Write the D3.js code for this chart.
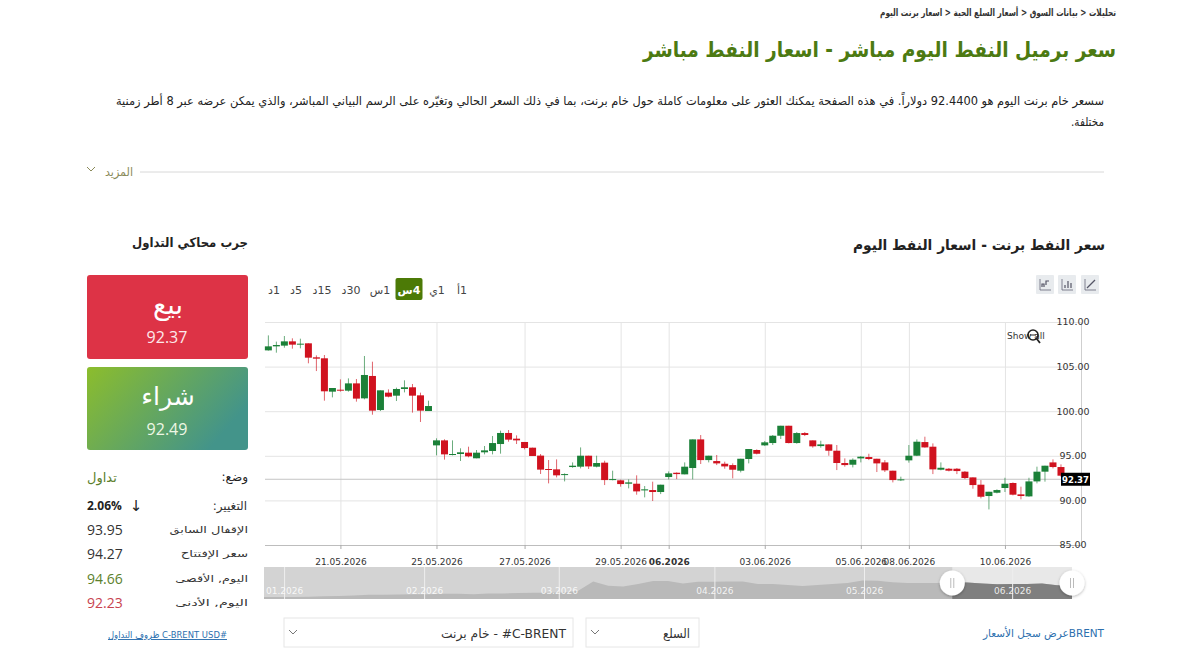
<!DOCTYPE html>
<html lang="ar">
<head>
<meta charset="utf-8">
<script src="https://cdn.jsdelivr.net/npm/d3@7/dist/d3.min.js"></script>
<style>
html, body { margin: 0; padding: 0; background: #fff; overflow: hidden; }
svg { display: block; font-family: "DejaVu Sans", sans-serif; }
</style>
</head>
<body>
<svg id="chart" width="1200" height="661"></svg>
<script>
// 4 hour candles
const candleOpen = [106.82,107.27,107.35,107.83,107.46,107.61,106.04,105.93,102.19,102.41,102.30,103.12,101.44,103.95,100.13,102.08,101.74,102.49,102.68,101.78,100.02,96.17,96.73,95.09,95.20,95.35,94.72,95.39,95.54,96.32,97.56,96.92,96.55,95.91,95.02,93.52,93.48,92.84,93.74,93.78,95.01,93.78,94.23,92.28,92.25,91.87,91.87,91.12,91.16,90.94,92.62,93.10,92.92,93.63,96.84,94.52,94.41,94.11,93.96,93.33,94.64,95.65,96.17,96.43,97.25,98.37,96.43,97.55,96.73,96.09,96.28,95.57,94.19,94.00,94.71,94.86,94.67,94.26,93.33,92.28,94.49,95.01,96.54,96.02,93.44,93.55,93.55,93.22,92.58,91.76,90.49,90.86,91.39,91.95,90.68,90.45,92.13,93.22,94.26,93.74];
const candleHigh = [108.50,107.80,108.43,108.17,108.13,107.61,106.26,106.30,102.60,103.57,103.68,103.61,106.19,105.55,102.34,102.45,102.64,103.46,103.05,102.08,101.18,96.96,96.85,96.73,95.84,96.02,95.65,96.10,97.22,97.82,97.89,97.29,96.55,95.91,95.20,94.53,94.60,93.03,94.26,95.94,95.01,95.01,94.45,93.33,92.32,92.36,92.81,91.61,92.10,91.76,93.25,93.14,94.26,96.84,97.33,95.01,95.09,94.34,94.15,94.67,95.76,95.72,96.66,97.33,98.37,98.37,97.66,97.66,96.73,96.69,96.28,96.21,94.71,94.71,94.97,95.23,94.67,94.52,93.33,92.66,96.21,96.84,97.14,96.39,94.26,93.63,93.63,93.29,92.58,92.28,90.97,91.24,92.54,92.02,91.54,92.54,93.78,93.89,94.60,94.04];
const candleLow = [106.79,106.56,107.12,107.01,107.05,105.37,104.50,101.18,101.55,102.19,102.19,101.07,101.33,99.61,100.02,101.55,101.14,102.11,99.84,98.79,100.02,95.05,94.57,95.05,94.42,94.83,94.72,95.16,95.16,95.24,96.58,96.32,95.72,94.98,92.96,91.91,92.58,92.13,93.66,93.59,93.52,93.70,91.72,92.25,91.54,91.35,90.64,90.34,89.93,90.71,92.36,92.39,92.92,92.36,94.08,94.26,93.96,93.55,92.47,93.14,94.15,95.16,96.09,96.21,96.88,96.39,96.36,97.21,95.91,95.91,95.01,93.40,93.78,93.70,94.26,94.52,93.18,93.18,92.02,92.17,94.23,94.97,95.91,92.95,93.37,93.25,92.95,92.39,91.31,90.23,88.99,90.79,90.94,90.56,90.12,90.41,91.91,92.10,93.59,92.66];
const candleClose = [107.27,107.42,107.83,107.46,107.57,106.00,105.89,102.23,102.60,102.30,103.12,101.41,104.06,100.06,102.34,101.63,102.49,102.68,101.74,100.06,100.58,96.73,95.16,95.20,95.39,94.94,95.35,95.61,96.43,97.56,96.81,96.73,95.87,94.98,93.45,93.41,92.81,92.95,93.89,95.01,93.81,94.19,92.28,92.39,91.83,92.02,91.01,91.24,90.94,91.76,93.03,92.95,93.78,96.84,94.52,95.01,94.15,93.81,93.44,94.67,95.76,95.23,96.51,97.25,98.37,96.43,97.55,97.33,96.06,96.28,95.57,94.19,93.96,94.56,94.90,94.64,94.15,93.37,92.28,92.36,95.01,96.58,95.94,93.48,93.66,93.33,93.29,92.51,91.72,90.41,90.97,91.16,91.87,90.64,90.49,92.13,93.22,93.89,93.74,92.77];
const lastPrice = 92.37;

const priceTicks = [85, 90, 95, 100, 105, 110];
const dateTickCandles = [9, 21, 32, 44, 50, 62, 74, 80, 92];
const dateTickLabels = ["21.05.2026","25.05.2026","27.05.2026","29.05.2026","06.2026","03.06.2026","05.06.2026","08.06.2026","10.06.2026"];

// navigator: closes over the whole range, one sample per step
const navPrices = [60,60,60,61,62,63,64,66,66,67,68,68,69,69,68,70,70,71,72,72,73,78,104,92,90,97,105,105,98,103,103,104,104,97,97,94,91,94,97,100,107,106,102,100,100,100,101,101,98,96,97,97,98,93,92];
const navMonthSteps = [1.34, 10.7, 19.7, 30.1, 40.1, 50];
const navMonthLabels = ["01.2026","02.2026","03.2026","04.2026","05.2026","06.2026"];
const navSelectedFromStep = 46;

const timeframes = ["1د","5د","15د","30د","1س","4س","1ي","1أ"];
const activeTimeframe = "4س";

const statLabels = ["الإقفال السابق","سعر الإفتتاح","اليوم, الأقصى","اليوم, الأدنى"];
const statValues = ["93.95","94.27","94.66","92.23"];
const statColors = ["#333","#333","#5c7f2c","#c8434f"];

const svg = d3.select("#chart");
const defs = svg.append("defs");

// small helper for all the page text, width squeezes the text to the reference width
function label(parent, str, o) {
    const t = parent.append("text")
        .text(str)
        .attr("x", o.x)
        .attr("y", o.y)
        .attr("font-size", o.size || 12)
        .attr("font-weight", o.weight || "normal")
        .attr("fill", o.fill || "#222")
        .attr("text-anchor", o.anchor || "start");
    if (o.rtl !== false) t.style("direction", "rtl");
    if (o.family) t.attr("font-family", o.family);
    if (o.width) t.attr("textLength", o.width).attr("lengthAdjust", "spacingAndGlyphs");
    if (o.underline) t.attr("text-decoration", "underline");
    return t;
}

function chevron(parent, cx, cy, color) {
    parent.append("path")
        .attr("d", `M${cx - 4},${cy - 2}L${cx},${cy + 2}L${cx + 4},${cy - 2}`)
        .attr("fill", "none").attr("stroke", color).attr("stroke-width", 1);
}

// page header
const page = svg.append("g");
label(page, "تحليلات < بيانات السوق < أسعار السلع الحية < اسعار برنت اليوم", {x: 1116, y: 16, size: 10, weight: "bold", fill: "#333", width: 236});
label(page, "سعر برميل النفط اليوم مباشر - اسعار النفط مباشر", {x: 1116, y: 57, size: 21, weight: "bold", fill: "#4c7a12", width: 473});
label(page, "سسعر خام برنت اليوم هو 92.4400 دولاراً. في هذه الصفحة يمكنك العثور على معلومات كاملة حول خام برنت، بما في ذلك السعر الحالي وتغيّره على الرسم البياني المباشر، والذي يمكن عرضه عبر 8 أطر زمنية", {x: 1104, y: 105, size: 12, fill: "#222", width: 988});
label(page, "مختلفة.", {x: 1104, y: 126, size: 12, fill: "#222", width: 33});
label(page, "المزيد", {x: 133, y: 176, size: 12, fill: "#8a8a5a", width: 28});
page.append("line").attr("x1", 140).attr("x2", 1104).attr("y1", 172).attr("y2", 172).attr("stroke", "#d8d8d8");
chevron(page, 91, 169, "#8a8a5a");

label(page, "سعر النفط برنت - اسعار النفط اليوم", {x: 1105, y: 250, size: 15, weight: "bold", fill: "#222", width: 252});
label(page, "جرب محاكي التداول", {x: 248, y: 247, size: 13, weight: "bold", fill: "#222", width: 116});

// sell and buy boxes
const buyGrad = defs.append("linearGradient").attr("id", "buyGrad")
    .attr("x1", "0").attr("y1", "0").attr("x2", "1").attr("y2", "0.45");
buyGrad.append("stop").attr("offset", "0").attr("stop-color", "#8cbd2c");
buyGrad.append("stop").attr("offset", "1").attr("stop-color", "#43948a");

page.append("rect").attr("x", 87).attr("y", 275).attr("width", 161).attr("height", 84).attr("rx", 3).attr("fill", "#dd3346");
page.append("rect").attr("x", 87).attr("y", 367).attr("width", 161).attr("height", 83).attr("rx", 3).attr("fill", "url(#buyGrad)");
label(page, "بيع", {x: 168, y: 314, size: 27, fill: "#fff", anchor: "middle"});
label(page, "92.37", {x: 167, y: 343, size: 16, fill: "#fde9eb", anchor: "middle", rtl: false, family: "Open Sans"});
label(page, "شراء", {x: 168, y: 405, size: 25, fill: "#fff", anchor: "middle"});
label(page, "92.49", {x: 167, y: 435, size: 16, fill: "#eef7e4", anchor: "middle", rtl: false, family: "Open Sans"});

// stats list
label(page, "وضع:", {x: 248, y: 481, size: 12, fill: "#222"});
label(page, "تداول", {x: 87, y: 482, size: 13, fill: "#5c7f2c", anchor: "end"});
label(page, "التغيير:", {x: 247, y: 510, size: 12, fill: "#333"});
label(page, "2.06%", {x: 87, y: 510, size: 12, weight: "bold", fill: "#222", rtl: false, family: "Open Sans"});
label(page, "↓", {x: 136, y: 511, size: 15, fill: "#222", anchor: "middle", rtl: false});

const statY = d3.scalePoint().domain(statLabels).range([535, 608]);
statLabels.forEach((s, i) => {
    label(page, s, {x: 248, y: statY(s) - 2, size: 9.5, fill: "#333", width: s.length * 5.6});
    label(page, statValues[i], {x: 87, y: statY(s), size: 14, fill: statColors[i], rtl: false, family: "Open Sans"});
});
label(page, "#C-BRENT USD ظروف التداول", {x: 227, y: 638, size: 9.5, fill: "#2c6fae", underline: true, width: 119});

// bottom controls
[[284, 289], [586, 113]].forEach(b => {
    page.append("rect").attr("x", b[0]).attr("y", 618).attr("width", b[1]).attr("height", 29)
        .attr("fill", "#fff").attr("stroke", "#e6e6e6");
    chevron(page, b[0] + 9, 632, "#777");
});
label(page, "\u200E#C-BRENT - خام برنت", {x: 566, y: 638, size: 12.5, fill: "#333", width: 125});
label(page, "السلع", {x: 690, y: 638, size: 12.5, fill: "#333", width: 27});
label(page, "BRENTعرض سجل الأسعار", {x: 1104, y: 637, size: 11, fill: "#2c6fae", width: 121});

// timeframe buttons
const tfX = d3.scaleOrdinal().domain(timeframes).range([274, 296, 322, 351, 380, 409, 437, 462]);
page.append("rect").attr("x", tfX(activeTimeframe) - 13.5).attr("y", 278).attr("width", 27).attr("height", 22)
    .attr("rx", 2).attr("fill", "#4c7a06");
timeframes.forEach(tf => {
    label(page, tf, {x: tfX(tf), y: 294, size: 11, fill: tf === activeTimeframe ? "#fff" : "#444",
        weight: tf === activeTimeframe ? "bold" : "normal", anchor: "middle"});
});

// chart type icons
[1036, 1058, 1081].forEach((ix, k) => {
    const g = page.append("g").attr("transform", `translate(${ix},275)`);
    g.append("rect").attr("width", 18).attr("height", 19).attr("rx", 1).attr("fill", "#e8ebee");
    g.append("path").attr("d", "M4,4V15H15").attr("fill", "none").attr("stroke", "#667").attr("stroke-width", 0.8);
    const inner = ["M6,12V9H8V12M10,10V6H13", "M7,13V10M10,13V6M13,13V8", "M6,13L10,9L14,5"][k];
    g.append("path").attr("d", inner).attr("fill", "none").attr("stroke", "#556").attr("stroke-width", 1.2);
});

// main candle chart
const plot = {left: 265, right: 1081, top: 322, bottom: 545};
const x = d3.scaleLinear().domain([-0.42, 101.5]).range([plot.left, plot.right]);
const y = d3.scaleLinear().domain([85, 110]).range([plot.bottom, plot.top]);
const candles = d3.range(candleOpen.length);
const green = "#1b8038", red = "#d0121f";
const bodyWidth = 7;

// vertical grid
const xGrid = svg.append("g")
    .attr("transform", `translate(0,${plot.bottom})`)
    .call(d3.axisBottom(x).tickValues(dateTickCandles).tickSize(-(plot.bottom - plot.top)).tickFormat(""));
xGrid.select(".domain").remove();
xGrid.selectAll("line").attr("stroke", "#e4e4e4");

// price axis and horizontal grid
const yAxis = svg.append("g")
    .attr("transform", `translate(${plot.right},0)`)
    .call(d3.axisRight(y).tickValues(priceTicks).tickSize(-(plot.right - plot.left)).tickFormat(d3.format(".2f")));
yAxis.select(".domain").attr("stroke", "#cfcfcf");
yAxis.selectAll("line").attr("stroke", d => d === 85 ? "#bdbdbd" : "#e4e4e4");
yAxis.selectAll("text")
    .attr("x", -8).attr("text-anchor", "middle").attr("dy", "0.3em")
    .attr("font-size", 9.5).attr("font-family", "DejaVu Sans").attr("fill", "#333");

// date axis
const xAxis = svg.append("g")
    .attr("transform", `translate(0,${plot.bottom})`)
    .call(d3.axisBottom(x).tickValues(dateTickCandles).tickSize(4).tickPadding(10)
        .tickFormat((d, i) => dateTickLabels[i]));
xAxis.select(".domain").remove();
xAxis.selectAll("line").attr("stroke", "#aaa");
xAxis.selectAll("text")
    .attr("font-size", 9).attr("font-family", "DejaVu Sans").attr("fill", "#333")
    .attr("font-weight", (d, i) => dateTickLabels[i].length === 7 ? "bold" : "normal");

// current price line
svg.append("line")
    .attr("x1", plot.left).attr("x2", plot.right)
    .attr("y1", y(lastPrice)).attr("y2", y(lastPrice))
    .attr("stroke", "#c4c4c4");

const candle = svg.append("g").selectAll("g").data(candles).join("g");
candle.append("line")
    .attr("x1", i => x(i)).attr("x2", i => x(i))
    .attr("y1", i => y(candleHigh[i])).attr("y2", i => y(candleLow[i]))
    .attr("stroke", i => candleClose[i] >= candleOpen[i] ? green : red)
    .attr("stroke-opacity", 0.65);
candle.append("rect")
    .attr("x", i => x(i) - bodyWidth / 2)
    .attr("width", bodyWidth)
    .attr("y", i => y(Math.max(candleOpen[i], candleClose[i])))
    .attr("height", i => Math.max(1, Math.abs(y(candleOpen[i]) - y(candleClose[i]))))
    .attr("fill", i => candleClose[i] >= candleOpen[i] ? green : red);

// price tag
svg.append("rect").attr("x", 1061).attr("y", y(lastPrice) - 6.5).attr("width", 29).attr("height", 13).attr("fill", "#000");
label(svg, d3.format(".2f")(lastPrice), {x: 1075.5, y: y(lastPrice) + 3.5, size: 8.5, weight: "bold", fill: "#fff", anchor: "middle", rtl: false});

// show all + magnifier cursor
label(svg, "Show all", {x: 1007, y: 339, size: 9, fill: "#333", rtl: false});
svg.append("circle").attr("cx", 1033).attr("cy", 335).attr("r", 5).attr("fill", "none").attr("stroke", "#222").attr("stroke-width", 1.6);
svg.append("line").attr("x1", 1036.5).attr("y1", 338.5).attr("x2", 1040).attr("y2", 343).attr("stroke", "#222").attr("stroke-width", 1.8);
svg.append("line").attr("x1", 1030).attr("x2", 1036).attr("y1", 335).attr("y2", 335).attr("stroke", "#222");

// navigator
const nav = {left: 264, right: 1072, top: 567, bottom: 599};
const nx = d3.scaleLinear().domain([0, navPrices.length - 1]).range([nav.left, nav.right]);
const ny = d3.scaleLinear().domain([54.3, 145]).range([nav.bottom, nav.top]);
const navArea = d3.area().x((d, i) => nx(i)).y0(nav.bottom).y1(d => ny(d));

svg.append("rect").attr("x", nav.left).attr("y", nav.top)
    .attr("width", nav.right - nav.left).attr("height", nav.bottom - nav.top).attr("fill", "#d3d3d3");
svg.append("rect").attr("x", nx(navSelectedFromStep)).attr("y", nav.top)
    .attr("width", nav.right - nx(navSelectedFromStep)).attr("height", nav.bottom - nav.top).attr("fill", "#e8e8e8");
svg.append("path").datum(navPrices).attr("d", navArea).attr("fill", "#b9b9b9");

defs.append("clipPath").attr("id", "navSel").append("rect")
    .attr("x", nx(navSelectedFromStep)).attr("y", nav.top)
    .attr("width", nav.right - nx(navSelectedFromStep)).attr("height", nav.bottom - nav.top);
svg.append("path").datum(navPrices).attr("d", navArea).attr("fill", "#7f7f7f").attr("clip-path", "url(#navSel)");

const navAxis = svg.append("g")
    .attr("transform", `translate(0,${nav.bottom})`)
    .call(d3.axisTop(nx).tickValues(navMonthSteps).tickSize(nav.bottom - nav.top).tickPadding(-27)
        .tickFormat((d, i) => navMonthLabels[i]));
navAxis.select(".domain").remove();
navAxis.selectAll("line").attr("stroke", "#eee");
navAxis.selectAll("text")
    .attr("font-size", 9).attr("font-family", "DejaVu Sans").attr("fill", "#fff").attr("fill-opacity", 0.85);

// navigator handles
defs.append("filter").attr("id", "handleShadow").attr("x", "-30%").attr("y", "-30%").attr("width", "160%").attr("height", "160%")
    .append("feDropShadow").attr("dx", 0).attr("dy", 1).attr("stdDeviation", 1.5).attr("flood-opacity", 0.3);
[nx(navSelectedFromStep), nav.right].forEach(hx => {
    svg.append("circle").attr("cx", hx).attr("cy", 583).attr("r", 12.5).attr("fill", "#fff").attr("filter", "url(#handleShadow)");
    [-1.5, 1.5].forEach(dx => {
        svg.append("line").attr("x1", hx + dx).attr("x2", hx + dx).attr("y1", 578).attr("y2", 588).attr("stroke", "#bbb");
    });
});
</script>
</body>
</html>
